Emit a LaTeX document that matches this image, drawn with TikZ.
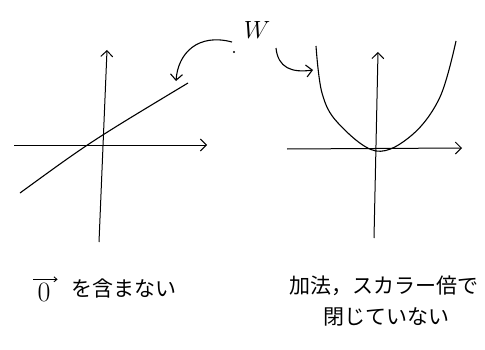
\documentclass[tikz,border=0pt]{standalone}
\usepackage{fontspec}
\newfontfamily\jpfont{Noto Sans CJK JP}
\usetikzlibrary{arrows.meta, positioning}
\tikzset{
	axis/.style={line width=1pt, -{Straight Barb[length=6pt,width=12pt]}},
	curve/.style={line width=1.1pt},
	pointer/.style={line width=1.1pt, -{Straight Barb[length=6pt,width=12pt]}},
	note/.style={font=\jpfont\fontsize{21}{26}\selectfont, inner sep=1pt}
}

\begin{document}
\begin{tikzpicture}[x=1pt, y=1pt]
	\useasboundingbox (0, 0) rectangle (485, 349);
	% Left plot: line not through origin
	\draw[axis] (14, 204) -- (207, 204);
	\draw[axis] (99, 107) -- (107, 299);
	\draw[curve] (20, 156) .. controls (90, 207) .. (188, 266);
	% Right plot: parabola
	\draw[axis] (287, 200) -- (462, 201);
	\draw[axis] (374, 111) -- (378, 297);
	\draw[curve] plot[smooth, tension=0.6] coordinates {(316, 303) (322, 256) (338, 226) (376, 198) (412, 214) (440, 252) (456, 308)};
	% Label W and pointers
	\node[font=\fontsize{34}{34}\selectfont] (w) at (257, 319) {$W$};
	\fill (234, 297) circle (1.1);
	\coordinate (wl) at (232, 307);
	\coordinate (wr) at (276, 301);
	\coordinate (ll) at (176, 268);
	\coordinate (pl) at (313, 279);
	\draw[pointer] (wl) .. controls (198, 316) and (178, 296) .. (ll);
	\draw[pointer] (wr) .. controls (278, 281) and (292, 276) .. (pl);
	% Captions
	\node[font=\fontsize{28}{28}\selectfont, inner sep=0pt] (zero) at (44, 57) {0};
	\draw[line width=0.9pt, -{Straight Barb[length=3pt,width=5pt]}] ([xshift=-4pt, yshift=3pt]zero.north west) -- ([xshift=7pt, yshift=3pt]zero.north east);
	\node[note, anchor=west] (capl) at (70, 60) {を含まない};
	\node[note, anchor=west] (capr) at (288, 63) {加法，スカラー倍で};
	\node[note, anchor=west] (caprb) at (322, 32) {閉じていない};
\end{tikzpicture}
\end{document}
